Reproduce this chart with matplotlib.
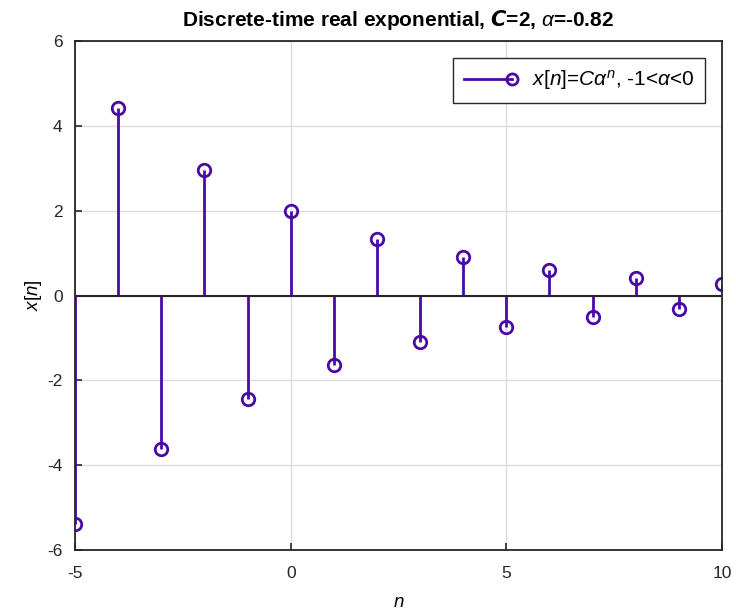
import matplotlib
matplotlib.use("Agg")
import matplotlib.pyplot as plt
from matplotlib.lines import Line2D
from matplotlib.legend_handler import HandlerBase

plt.rcParams['font.family'] = ['Liberation Sans', 'DejaVu Sans']
plt.rcParams['mathtext.fontset'] = 'custom'
plt.rcParams['mathtext.rm'] = 'Liberation Sans'
plt.rcParams['mathtext.it'] = 'Liberation Sans:italic'
plt.rcParams['mathtext.bf'] = 'Liberation Sans:bold'
plt.rcParams['axes.unicode_minus'] = False

# samples
n = [-5, -4, -3, -2, -1, 0, 1, 2, 3, 4, 5, 6, 7, 8, 9, 10]
x = [-5.40, 4.42, -3.63, 2.97, -2.44, 2.00, -1.64, 1.34, -1.10, 0.90,
     -0.74, 0.61, -0.50, 0.41, -0.33, 0.27]
xticks = [-5, 0, 5, 10]
yticks = [-6, -4, -2, 0, 2, 4, 6]

col = '#4a0aa8'


class StemHandle(HandlerBase):
    # matlab style: line with the circle at its right end
    def create_artists(self, legend, orig, xdescent, ydescent, width, height,
                       fontsize, trans):
        y = height / 2 - ydescent
        line = Line2D([-xdescent, width - xdescent], [y, y], color=col, lw=2,
                      transform=trans)
        mk = Line2D([width - xdescent], [y], marker='o', mfc='none', mec=col,
                    mew=2, ms=8, transform=trans)
        return [line, mk]


fig = plt.figure(figsize=(7.36, 6.15), dpi=100)
ax = fig.add_axes([0.102, 0.106, 0.879, 0.827])

markers, stems, base = ax.stem(n, x)
plt.setp(stems, color=col, linewidth=2)
plt.setp(markers, color=col, marker='o', markerfacecolor='none',
         markeredgewidth=2, markersize=9)
plt.setp(base, color='#262626', linewidth=1.5)

ax.set_xlim(-5, 10)
ax.set_ylim(-6, 6)
ax.set_xticks(xticks)
ax.set_yticks(yticks)
ax.grid(True, color='#dcdcdc', linewidth=1)
ax.set_axisbelow(True)
ax.tick_params(direction='in', length=5, width=1.2, labelsize=12.5, colors='#262626')
ax.tick_params(axis='x', pad=12)
ax.tick_params(axis='y', pad=9)
for s in ax.spines.values():
    s.set_linewidth(1.3)
    s.set_color('#262626')

ax.set_xlabel('$n$', fontsize=13.5, labelpad=9)
ax.set_ylabel(r'$x$[$n$]', fontsize=13.5, labelpad=2)
ax.set_title(r'Discrete-time real exponential, $\mathbfit{C}$=2, $\alpha$=-0.82',
             fontsize=15, fontweight='bold', pad=11)

leg = ax.legend([Line2D([], [])], [r'$x$[$n$]=$C\alpha^n$, -1<$\alpha$<0'],
                handler_map={Line2D: StemHandle()},
                loc='upper right', fontsize=15, fancybox=False, framealpha=1,
                edgecolor='#262626', borderpad=0.5, handlelength=2.3,
                handletextpad=1.0, borderaxespad=0.8)
leg.get_frame().set_linewidth(1)

fig.savefig('out.png', dpi=100)
